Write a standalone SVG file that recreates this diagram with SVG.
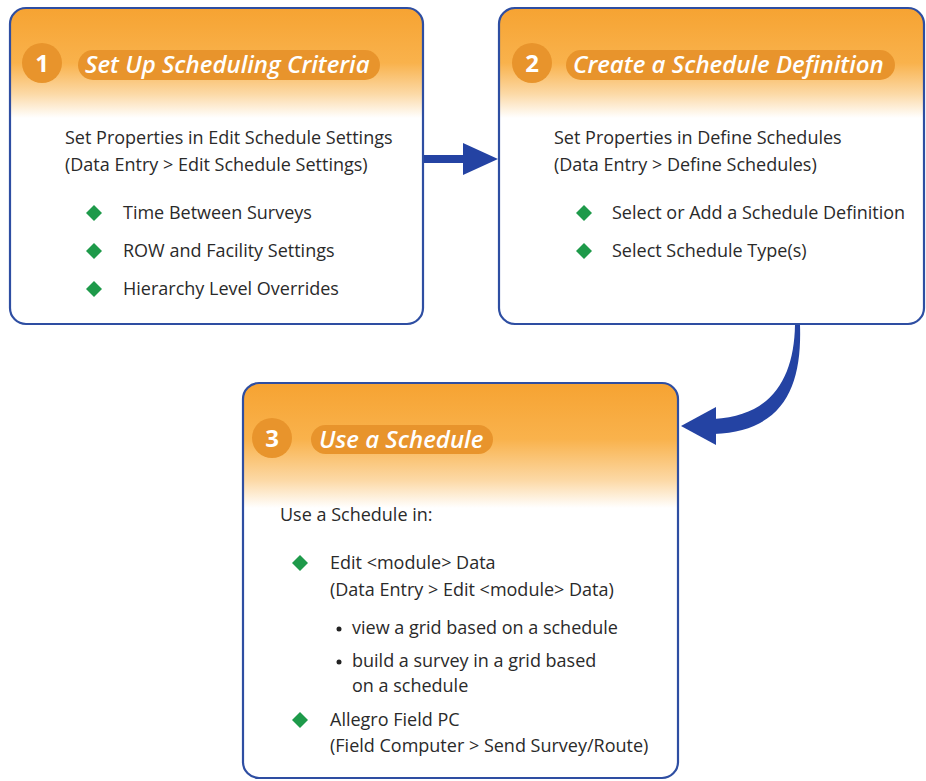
<svg xmlns="http://www.w3.org/2000/svg" width="926" height="781" viewBox="0 0 926 781">
<defs>
<linearGradient id="g12" gradientUnits="userSpaceOnUse" x1="0" y1="8" x2="0" y2="118">
<stop offset="0" stop-color="#f6a332"/>
<stop offset="0.5" stop-color="#f9b24c"/>
<stop offset="0.78" stop-color="#fcd9a6"/>
<stop offset="1" stop-color="#ffffff"/>
</linearGradient>
<linearGradient id="g3" gradientUnits="userSpaceOnUse" x1="0" y1="383" x2="0" y2="508">
<stop offset="0" stop-color="#f6a332"/>
<stop offset="0.45" stop-color="#f9b24c"/>
<stop offset="0.78" stop-color="#fcd9a6"/>
<stop offset="1" stop-color="#ffffff"/>
</linearGradient>
</defs>
<style>
.box{stroke:#2e4ea2;stroke-width:2.2}
.badge{fill:#e8942c}
.num{font-family:"Open Sans","Noto Sans",sans-serif;font-weight:bold;font-size:24px;fill:#fff;text-anchor:middle}
.title{font-family:"Open Sans","Noto Sans",sans-serif;font-weight:600;font-style:italic;font-size:24px;fill:#fff}
.t{font-family:"Open Sans","Noto Sans",sans-serif;font-size:18px;fill:#2a2a2a}
.dia{fill:#1e9a4a}
.dot{fill:#222}
.arrow{fill:#2443a3}
</style>

<g id="connectors">
<path class="arrow" d="M424 155 L463 155 L463 143 L498 159 L463 175 L463 163 L424 163 Z"/>
<path class="arrow" d="M800 325 C802 385 785 431 714 434 L714 419 C772 416 794 378 795 325 Z"/>
<path class="arrow" d="M681 426 L716 407 L716 445 Z"/>
</g>

<g id="node1">
<rect class="box" x="10" y="8" width="413" height="316" rx="16" fill="url(#g12)"/>
<circle class="badge" cx="42" cy="63" r="20"/>
<text class="num" x="42" y="72">1</text>
<rect class="badge" x="78" y="50" width="302" height="30" rx="15"/>
<text class="title" x="85" y="73">Set Up Scheduling Criteria</text>
<text class="t" x="65" y="144">Set Properties in Edit Schedule Settings</text>
<text class="t" x="65" y="171">(Data Entry &gt; Edit Schedule Settings)</text>
<path class="dia" d="M94 205 L102 213 L94 221 L86 213 Z"/>
<text class="t" x="123" y="219">Time Between Surveys</text>
<path class="dia" d="M94 243 L102 251 L94 259 L86 251 Z"/>
<text class="t" x="123" y="257">ROW and Facility Settings</text>
<path class="dia" d="M94 281 L102 289 L94 297 L86 289 Z"/>
<text class="t" x="123" y="295">Hierarchy Level Overrides</text>
</g>

<g id="node2">
<rect class="box" x="499" y="8" width="425" height="316" rx="16" fill="url(#g12)"/>
<circle class="badge" cx="532" cy="63" r="20"/>
<text class="num" x="532" y="72">2</text>
<rect class="badge" x="566" y="50" width="329" height="30" rx="15"/>
<text class="title" x="573" y="73">Create a Schedule Definition</text>
<text class="t" x="554" y="144">Set Properties in Define Schedules</text>
<text class="t" x="554" y="171">(Data Entry &gt; Define Schedules)</text>
<path class="dia" d="M584 205 L592 213 L584 221 L576 213 Z"/>
<text class="t" x="612" y="219">Select or Add a Schedule Definition</text>
<path class="dia" d="M584 243 L592 251 L584 259 L576 251 Z"/>
<text class="t" x="612" y="257">Select Schedule Type(s)</text>
</g>

<g id="node3">
<rect class="box" x="243" y="383" width="435" height="395" rx="16" fill="url(#g3)"/>
<circle class="badge" cx="272" cy="438" r="20"/>
<text class="num" x="272" y="447">3</text>
<rect class="badge" x="311" y="425" width="182" height="29" rx="14.5"/>
<text class="title" x="319" y="448">Use a Schedule</text>
<text class="t" x="280" y="521">Use a Schedule in:</text>
<path class="dia" d="M300 555 L308 563 L300 571 L292 563 Z"/>
<text class="t" x="330" y="569">Edit &lt;module&gt; Data</text>
<text class="t" x="330" y="596">(Data Entry &gt; Edit &lt;module&gt; Data)</text>
<circle class="dot" cx="339" cy="629" r="2.5"/>
<text class="t" x="352" y="634">view a grid based on a schedule</text>
<circle class="dot" cx="339" cy="662" r="2.5"/>
<text class="t" x="352" y="667">build a survey in a grid based</text>
<text class="t" x="352" y="692">on a schedule</text>
<path class="dia" d="M300 712 L308 720 L300 728 L292 720 Z"/>
<text class="t" x="330" y="726">Allegro Field PC</text>
<text class="t" x="330" y="752">(Field Computer &gt; Send Survey/Route)</text>
</g>
</svg>
